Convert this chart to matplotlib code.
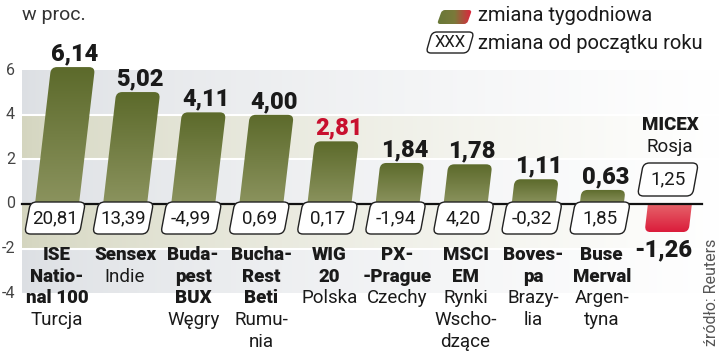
import numpy as np
import matplotlib.pyplot as plt
from matplotlib.path import Path
from matplotlib.patches import PathPatch
from matplotlib.colors import LinearSegmentedColormap, to_rgb

plt.rcParams['font.family'] = ['Roboto', 'DejaVu Sans']

# dane
indeksy = ["ISE\nNatio-\nnal 100", "Sensex", "Buda-\npest\nBUX", "Bucha-\nRest\nBeti",
           "WIG\n20", "PX-\n-Prague", "MSCI\nEM", "Boves-\npa", "Buse\nMerval", "MICEX"]
kraje = ["Turcja", "Indie", "Węgry", "Rumu-\nnia", "Polska", "Czechy",
         "Rynki\nWscho-\ndzące", "Brazy-\nlia", "Argen-\ntyna", "Rosja"]
zmiana_tyg = [6.14, 5.02, 4.11, 4.00, 2.81, 1.84, 1.78, 1.11, 0.63, -1.26]
zmiana_rok = [20.81, 13.39, -4.99, 0.69, 0.17, -1.94, 4.20, -0.32, 1.85, 1.25]
yticks = [6, 4, 2, 0, -2, -4]
polska = "WIG\n20"

# skala: piksele na jednostke
SX, SY = 68.1, 22.3
X0, Y0 = 57, 204
W, H = 720, 355

def fx(px):
    return (px - X0) / SX

def fy(py):
    return (Y0 - py) / SY

def fmt(v):
    return f"{v:.2f}".replace('.', ',')

def rounded_path(corners, r, rounded):
    pts = np.array(corners) * [SX, SY]
    verts, codes = [], []
    n = len(pts)
    for i in range(n):
        p, prev, nxt = pts[i], pts[i - 1], pts[(i + 1) % n]
        if rounded[i]:
            a = p + (prev - p) / np.linalg.norm(prev - p) * r
            b = p + (nxt - p) / np.linalg.norm(nxt - p) * r
            verts += [a, p, b]
            codes += [Path.LINETO, Path.CURVE3, Path.CURVE3]
        else:
            verts.append(p)
            codes.append(Path.LINETO)
    codes[0] = Path.MOVETO
    verts.append(verts[0])
    codes.append(Path.CLOSEPOLY)
    return Path(np.array(verts) / [SX, SY], codes)

def gradient_fill(ax, path, extent, cmap, horizontal=False, reverse=False, z=3):
    patch = PathPatch(path, facecolor='none', edgecolor='none', zorder=z)
    ax.add_patch(patch)
    t = np.linspace(0, 1, 256)
    if reverse:
        t = t[::-1]
    arr = t.reshape(1, -1) if horizontal else t.reshape(-1, 1)
    im = ax.imshow(arr, cmap=cmap, extent=extent, origin='lower', aspect='auto',
                   interpolation='bicubic', zorder=z)
    im.set_clip_path(patch)

fig = plt.figure(figsize=(7.2, 3.55), dpi=100)
ax = fig.add_axes([0, 0, 1, 1])
ax.set_xlim(fx(0), fx(W))
ax.set_ylim(fy(H), fy(0))
ax.axis('off')

# tlo - pasy
band_cols = ['#dcdfe3', '#d4d5bf', '#dcdfe3', '#d4d5bf', '#dcdfe3']
for k, col in enumerate(band_cols):
    top, bot = yticks[k], yticks[k + 1]
    f = np.linspace(0, 1, 300) ** 0.7
    c = np.array(to_rgb(col))
    rgb = c[None, :] * (1 - f[:, None]) + np.ones(3)[None, :] * f[:, None]
    ax.imshow(rgb[None, :, :], extent=(fx(22), fx(W), bot, top), aspect='auto',
              origin='lower', zorder=0)
for g in [4, 2, -2]:
    ax.plot([fx(22), fx(W)], [g, g], color='white', lw=1.5, zorder=1)

for t in yticks:
    ax.text(fx(15), t, str(t), ha='right', va='center', fontsize=11.5, color='#444444')

green = LinearSegmentedColormap.from_list('g', ['#8b935e', '#5c6a2b'])
red = LinearSegmentedColormap.from_list('r', ['#e6666c', '#db1c3b'])

slant = 0.117
hw = 22
for i, v in enumerate(zmiana_tyg):
    sh = slant * v * SY / SX
    corners = [(i - hw / SX, 0), (i + hw / SX, 0), (i + hw / SX + sh, v), (i - hw / SX + sh, v)]
    path = rounded_path(corners, 6, [False, False, True, True])
    xs = [c[0] for c in corners]
    lo, hi = min(0, v), max(0, v)
    if v >= 0:
        gradient_fill(ax, path, (min(xs), max(xs), lo, hi), green)
        col = '#c8102e' if indeksy[i] == polska else '#1a1a1a'
        ax.text(i + sh + 2 / SX, v + 0.3, fmt(v), ha='center', va='baseline',
                fontsize=17, fontweight='heavy', color=col, zorder=6)
    else:
        gradient_fill(ax, path, (min(xs), max(xs), lo, hi), red, reverse=True)
        ax.text(i + sh - 3 / SX, v - 0.3, fmt(v), ha='center', va='top',
                fontsize=17, fontweight='heavy', color='#1a1a1a', zorder=6)

# linia zera
ax.plot([fx(22), fx(702)], [0, 0], color='#111111', lw=1.6, zorder=4)

# ramki ze zmiana od poczatku roku
bw, bs = 27.5, 3
for i, (v, r) in enumerate(zip(zmiana_tyg, zmiana_rok)):
    if v >= 0:
        ptop, pbot = Y0 - 2, Y0 + 30
    else:
        ptop, pbot = 163, 196
    cx = (i * SX + X0) - 2
    corners = [(fx(cx - bw - bs), fy(pbot)), (fx(cx + bw - bs), fy(pbot)),
               (fx(cx + bw + bs), fy(ptop)), (fx(cx - bw + bs), fy(ptop))]
    ax.add_patch(PathPatch(rounded_path(corners, 6, [True] * 4), facecolor='white',
                           edgecolor='#222222', lw=1.0, zorder=5))
    ax.text(fx(cx), fy((ptop + pbot) / 2), fmt(r), ha='center', va='center',
            fontsize=13.5, color='#1a1a1a', zorder=6)

    # podpisy
    bold = indeksy[i].split('\n')
    norm = kraje[i].split('\n')
    if v >= 0:
        py = 255
    else:
        py = 125
    for s in bold:
        ax.text(i, fy(py), s, ha='center', va='center', fontsize=13.5,
                fontweight='heavy', color='#1a1a1a', zorder=6)
        py += 21.7
    for s in norm:
        ax.text(i, fy(py), s, ha='center', va='center', fontsize=13.5,
                color='#1a1a1a', zorder=6)
        py += 21.7

# legenda
leg = [(fx(437), fy(24)), (fx(467), fy(24)), (fx(472), fy(10)), (fx(442), fy(10))]
legcm = LinearSegmentedColormap.from_list('l', ['#687838', '#7a7a3a', '#e0243e'])
gradient_fill(ax, rounded_path(leg, 3, [True] * 4), (fx(437), fx(472), fy(24), fy(10)),
              legcm, horizontal=True, z=5)
ax.text(fx(478), fy(16), "zmiana tygodniowa", ha='left', va='center', fontsize=14.5,
        color='#1a1a1a')
box = [(fx(426), fy(53)), (fx(468), fy(53)), (fx(474), fy(32)), (fx(432), fy(32))]
ax.add_patch(PathPatch(rounded_path(box, 5, [True] * 4), facecolor='white',
                       edgecolor='#222222', lw=1.0, zorder=5))
ax.text(fx(450), fy(42.5), "XXX", ha='center', va='center', fontsize=12,
        color='#1a1a1a', zorder=6)
ax.text(fx(478), fy(44), "zmiana od początku roku", ha='left', va='center',
        fontsize=14.5, color='#1a1a1a')

ax.text(fx(22), fy(15), "w proc.", ha='left', va='center', fontsize=14, color='#333333')
ax.text(fx(712), fy(292), "źródło: Reuters", ha='center', va='center', rotation=90,
        fontsize=11.5, color='#555555')

fig.savefig('out.png', dpi=100)
